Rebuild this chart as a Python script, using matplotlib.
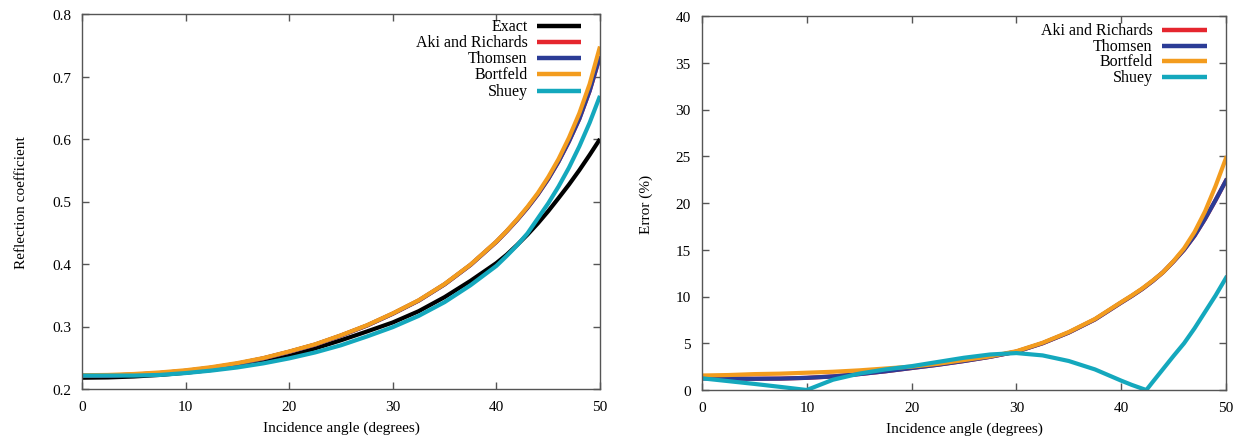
import matplotlib
matplotlib.use("Agg")
import matplotlib.pyplot as plt
from matplotlib.lines import Line2D

plt.rcParams['font.family'] = ['Liberation Serif', 'DejaVu Serif']

# ---------------- data: left panel (reflection coefficient) ----------------
angles = [0, 2.5, 5, 7.5, 10, 12.5, 15, 17.5, 20, 22.5, 25, 27.5, 30, 32.5, 35,
          37.5, 40, 41, 42, 43, 44, 45, 46, 47, 48, 49, 50]

r_exact = [0.218, 0.2185, 0.2200, 0.2225, 0.2260, 0.2305, 0.2365, 0.2440, 0.2530,
           0.2650, 0.2780, 0.2920, 0.3065, 0.3245, 0.3470, 0.3730, 0.4015, 0.4150,
           0.4305, 0.4470, 0.4650, 0.4845, 0.5055, 0.5270, 0.5500, 0.5745, 0.6000]

r_bortfeld = [0.222, 0.2225, 0.2240, 0.2265, 0.2300, 0.2350, 0.2415, 0.2495, 0.2600,
              0.2715, 0.2860, 0.3020, 0.3210, 0.3420, 0.3680, 0.3990, 0.4360, 0.4530,
              0.4715, 0.4915, 0.5135, 0.5390, 0.5680, 0.6020, 0.6410, 0.6880, 0.7480]

r_thomsen = [0.221, 0.2215, 0.2230, 0.2255, 0.2290, 0.2340, 0.2405, 0.2490, 0.2595,
             0.2710, 0.2855, 0.3015, 0.3205, 0.3415, 0.3675, 0.3985, 0.4355, 0.4525,
             0.4705, 0.4900, 0.5115, 0.5360, 0.5640, 0.5960, 0.6320, 0.6770, 0.7330]

r_aki = [0.221, 0.2215, 0.2230, 0.2255, 0.2290, 0.2340, 0.2405, 0.2490, 0.2595,
         0.2710, 0.2855, 0.3015, 0.3205, 0.3415, 0.3675, 0.3985, 0.4355, 0.4525,
         0.4705, 0.4900, 0.5115, 0.5360, 0.5640, 0.5960, 0.6320, 0.6770, 0.7320]

r_shuey = [0.2215, 0.2215, 0.2215, 0.2225, 0.2255, 0.2295, 0.2345, 0.2410, 0.2490,
           0.2585, 0.2700, 0.2840, 0.2990, 0.3170, 0.3390, 0.3660, 0.3970, 0.4130,
           0.4300, 0.4490, 0.4730, 0.4970, 0.5240, 0.5540, 0.5880, 0.6260, 0.6690]

# ---------------- data: right panel (error %) ----------------
err_angles = angles

err_bortfeld = [1.55, 1.6, 1.7, 1.75, 1.85, 1.95, 2.1, 2.3, 2.5, 2.8, 3.2, 3.6, 4.15,
                5.05, 6.2, 7.6, 9.4, 10.1, 10.85, 11.7, 12.6, 13.8, 15.15, 16.9, 19.1,
                21.8, 24.8]

err_thomsen = [1.25, 1.22, 1.2, 1.22, 1.3, 1.45, 1.7, 2.0, 2.35, 2.7, 3.1, 3.55, 4.1,
               5.0, 6.15, 7.55, 9.35, 10.05, 10.8, 11.65, 12.6, 13.75, 15.0, 16.5,
               18.3, 20.3, 22.4]

err_aki = [1.25, 1.22, 1.2, 1.22, 1.3, 1.45, 1.7, 2.0, 2.35, 2.7, 3.1, 3.55, 4.1,
           5.0, 6.15, 7.55, 9.35, 10.05, 10.8, 11.65, 12.6, 13.75, 15.0, 16.5,
           18.3, 20.3, 22.4]

shuey_angles = [0, 2.5, 5, 7.5, 10, 12.5, 15, 17.5, 20, 22.5, 25, 27.5, 30, 32.5, 35,
                37.5, 40, 41, 42, 42.4, 43, 44, 45, 46, 47, 48, 49, 50]
err_shuey = [1.25, 0.95, 0.65, 0.33, 0.0, 1.1, 1.75, 2.2, 2.55, 3.0, 3.45, 3.8, 3.95,
             3.7, 3.1, 2.2, 1.0, 0.55, 0.15, 0.0, 0.85, 2.25, 3.65, 5.0, 6.6, 8.35,
             10.1, 12.0]

colors = {
    'Exact': '#000000',
    'Aki and Richards': '#e5262e',
    'Thomsen': '#2b3c96',
    'Bortfeld': '#f39c1e',
    'Shuey': '#14a8bd',
}

fig = plt.figure(figsize=(12.43, 4.39), dpi=100)
ax1 = fig.add_axes([82 / 1243, 49 / 439, 518 / 1243, 375 / 439])
ax2 = fig.add_axes([702 / 1243, 48 / 439, 524 / 1243, 374 / 439])

lw = 3.0
left_series = [('Exact', r_exact), ('Aki and Richards', r_aki), ('Thomsen', r_thomsen),
               ('Bortfeld', r_bortfeld), ('Shuey', r_shuey)]
for name, vals in left_series:
    ax1.plot(angles, vals, color=colors[name], lw=lw, solid_capstyle='butt',
             solid_joinstyle='round')

ax2.plot(err_angles, err_aki, color=colors['Aki and Richards'], lw=lw, solid_joinstyle='round')
ax2.plot(err_angles, err_thomsen, color=colors['Thomsen'], lw=lw, solid_joinstyle='round')
ax2.plot(err_angles, err_bortfeld, color=colors['Bortfeld'], lw=lw, solid_joinstyle='round')
ax2.plot(shuey_angles, err_shuey, color=colors['Shuey'], lw=lw, solid_joinstyle='miter')

ax1.set_xlim(0, 50)
ax1.set_ylim(0.2, 0.8)
ax1.set_xticks([0, 10, 20, 30, 40, 50])
ax1.set_yticks([0.2, 0.3, 0.4, 0.5, 0.6, 0.7, 0.8])
ax1.set_yticklabels(['0.2', '0.3', '0.4', '0.5', '0.6', '0.7', '0.8'])
ax1.set_xlabel('Incidence angle (degrees)', fontsize=11, labelpad=5)
ax1.set_ylabel('Reflection coefficient', fontsize=11, labelpad=17)

ax2.set_xlim(0, 50)
ax2.set_ylim(0, 40)
ax2.set_xticks([0, 10, 20, 30, 40, 50])
ax2.set_yticks([0, 5, 10, 15, 20, 25, 30, 35, 40])
ax2.set_xlabel('Incidence angle (degrees)', fontsize=11, labelpad=5)
ax2.set_ylabel('Error (%)', fontsize=11, labelpad=16)

for ax in (ax1, ax2):
    for s in ax.spines.values():
        s.set_color('#555555')
        s.set_linewidth(1.0)
    ax.tick_params(direction='in', length=5, width=1, color='#555555',
                   top=True, right=True, labelsize=11, pad=8)

def manual_legend(ax, names, ys):
    for name, y in zip(names, ys):
        ax.text(0.860, y, name, transform=ax.transAxes, ha='right', va='center',
                fontsize=11.5)
        ax.add_line(Line2D([0.878, 0.964], [y, y], transform=ax.transAxes,
                           color=colors[name], lw=3.2, solid_capstyle='butt'))

manual_legend(ax1, ['Exact', 'Aki and Richards', 'Thomsen', 'Bortfeld', 'Shuey'],
              [0.967, 0.925, 0.882, 0.839, 0.796])
manual_legend(ax2, ['Aki and Richards', 'Thomsen', 'Bortfeld', 'Shuey'],
              [0.963, 0.921, 0.879, 0.836])

fig.savefig('out.png', dpi=100)
